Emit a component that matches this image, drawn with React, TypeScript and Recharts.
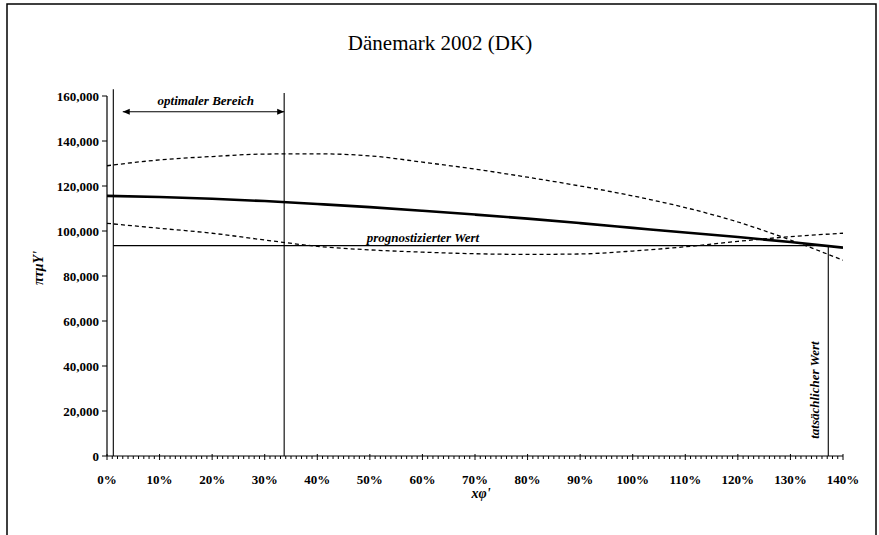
import React from 'react';
import { LineChart, Line, XAxis, YAxis, ReferenceLine, ReferenceDot } from 'recharts';

// ---- data ----
const xPercent = [0, 10, 20, 30, 40, 50, 60, 70, 80, 90, 100, 110, 120, 130, 140];
const centralValues = [115600, 115100, 114300, 113300, 112000, 110600, 109000, 107300, 105500, 103500, 101400, 99300, 97300, 95100, 92600];
const upperValues = [129000, 131600, 133100, 134200, 134300, 133400, 130600, 127500, 123900, 120000, 115600, 110400, 104000, 96000, 87000];
const lowerValues = [103400, 101200, 99000, 96000, 93200, 91600, 90600, 89900, 89600, 89800, 91100, 93000, 95400, 97500, 99000];

const yTicks = [0, 20000, 40000, 60000, 80000, 100000, 120000, 140000, 160000];
const xMajorTicks = [0, 10, 20, 30, 40, 50, 60, 70, 80, 90, 100, 110, 120, 130, 140];
const xAllTicks = Array.from({ length: 141 }, (_, i) => i);

const forecastValue = 93500;
const optimalFrom = 1.2;
const optimalTo = 33.7;
const actualValue = 137.2;
const arrowFrom = 3.0;
const arrowLevel = 153000;
const verticalTopLeft = 163000;
const verticalTopOptimal = 161300;

const title = 'Dänemark 2002 (DK)';
const optimalLabel = 'optimaler Bereich';
const forecastLabel = 'prognostizierter Wert';
const actualLabel = 'tatsächlicher Wert';

const data = xPercent.map((x, i) => ({ x, central: centralValues[i], upper: upperValues[i], lower: lowerValues[i] }));

const FONT = '"Liberation Serif", "Times New Roman", serif';

const XTick = (props: any) => {
  const { x, y, payload } = props;
  const v = payload.value;
  const major = xMajorTicks.includes(v);
  return (
    <g>
      <line x1={x} x2={x} y1={y - (major ? 2 : 0)} y2={y + (major ? 4 : 3)} stroke="#000" strokeWidth={1} />
      {major && (
        <text x={x} y={y + 28} textAnchor="middle" fontFamily={FONT} fontSize={13} fontWeight="bold" fill="#000">
          {v}%
        </text>
      )}
    </g>
  );
};

const ArrowShape = (p: any) => {
  const { x1, y1, x2, y2 } = p;
  const a = 5;
  return (
    <g>
      <line x1={x1} y1={y1} x2={x2} y2={y2} stroke="#000" strokeWidth={1} />
      <polygon points={`${x1},${y1} ${x1 + a + 2},${y1 - a / 2 - 0.5} ${x1 + a + 2},${y1 + a / 2 + 0.5}`} fill="#000" />
      <polygon points={`${x2},${y2} ${x2 - a - 2},${y2 - a / 2 - 0.5} ${x2 - a - 2},${y2 + a / 2 + 0.5}`} fill="#000" />
    </g>
  );
};

const textShape = (text: string, rotate = false) => (p: any) => {
  const { cx, cy } = p;
  return (
    <text
      x={cx}
      y={cy}
      textAnchor="middle"
      dominantBaseline="central"
      fontFamily={FONT}
      fontSize={13}
      fontStyle="italic"
      fontWeight="bold"
      fill="#000"
      transform={rotate ? `rotate(-90 ${cx} ${cy})` : undefined}
    >
      {text}
    </text>
  );
};

export default function App() {
  return (
    <div style={{ position: 'absolute', left: 0, top: 0, width: 879, height: 535, background: '#fff' }}>
      <LineChart
        width={879}
        height={535}
        data={data}
        margin={{ top: 96, right: 36, bottom: 49, left: 47 }}
      >
        <XAxis
          type="number"
          dataKey="x"
          domain={[0, 140]}
          ticks={xAllTicks}
          interval={0}
          tick={<XTick />}
          tickLine={false}
          tickSize={0}
          tickMargin={0}
          height={30}
          axisLine={{ stroke: '#000', strokeWidth: 1.2 }}
          allowDataOverflow
        />
        <YAxis
          type="number"
          domain={[0, 160000]}
          ticks={yTicks}
          interval={0}
          width={60}
          tickSize={5}
          tickMargin={3}
          tickFormatter={(v: number) => v.toLocaleString('en-US')}
          tick={{ fill: '#000', fontFamily: FONT, fontSize: 13, fontWeight: 'bold' }}
          tickLine={{ stroke: '#000' }}
          axisLine={{ stroke: '#000', strokeWidth: 1.2 }}
        />
        <Line type="monotone" dataKey="upper" stroke="#000" strokeWidth={1.3} strokeDasharray="4 3" dot={false} isAnimationActive={false} />
        <Line type="monotone" dataKey="lower" stroke="#000" strokeWidth={1.3} strokeDasharray="4 3" dot={false} isAnimationActive={false} />
        <Line type="monotone" dataKey="central" stroke="#000" strokeWidth={2.6} dot={false} isAnimationActive={false} />
        <ReferenceLine
          segment={[{ x: optimalFrom, y: forecastValue }, { x: actualValue, y: forecastValue }]}
          stroke="#000"
          strokeWidth={1.1}
          ifOverflow="visible"
        />
        <ReferenceLine
          segment={[{ x: optimalFrom, y: 0 }, { x: optimalFrom, y: verticalTopLeft }]}
          stroke="#000"
          strokeWidth={1.1}
          ifOverflow="visible"
        />
        <ReferenceLine
          segment={[{ x: optimalTo, y: 0 }, { x: optimalTo, y: verticalTopOptimal }]}
          stroke="#000"
          strokeWidth={1.1}
          ifOverflow="visible"
        />
        <ReferenceLine
          segment={[{ x: actualValue, y: 0 }, { x: actualValue, y: forecastValue }]}
          stroke="#000"
          strokeWidth={1.1}
          ifOverflow="visible"
        />
        <ReferenceLine
          segment={[{ x: arrowFrom, y: arrowLevel }, { x: optimalTo, y: arrowLevel }]}
          shape={ArrowShape}
          ifOverflow="visible"
        />
        <ReferenceDot x={18.8} y={158200} r={0} shape={textShape(optimalLabel)} ifOverflow="visible" />
        <ReferenceDot x={60.1} y={97000} r={0} shape={textShape(forecastLabel)} ifOverflow="visible" />
        <ReferenceDot x={134.6} y={29300} r={0} shape={textShape(actualLabel, true)} ifOverflow="visible" />
      </LineChart>
      <svg width={879} height={535} style={{ position: 'absolute', left: 0, top: 0, pointerEvents: 'none' }}>
        <rect x={7} y={4} width={869} height={540} fill="none" stroke="#000" strokeWidth={1.5} />
        <text x={440} y={43} textAnchor="middle" dominantBaseline="central" fontFamily={FONT} fontSize={21} fill="#000">
          {title}
        </text>
        <text
          x={38}
          y={268}
          textAnchor="middle"
          dominantBaseline="central"
          fontFamily={FONT}
          fontSize={14}
          fontStyle="italic"
          fontWeight="bold"
          fill="#000"
          transform="rotate(-90 38 268)"
        >
          πτμY'
        </text>
        <text x={481} y={493} textAnchor="middle" dominantBaseline="central" fontFamily={FONT} fontSize={14} fontStyle="italic" fontWeight="bold" fill="#000">
          xφ'
        </text>
      </svg>
    </div>
  );
}
